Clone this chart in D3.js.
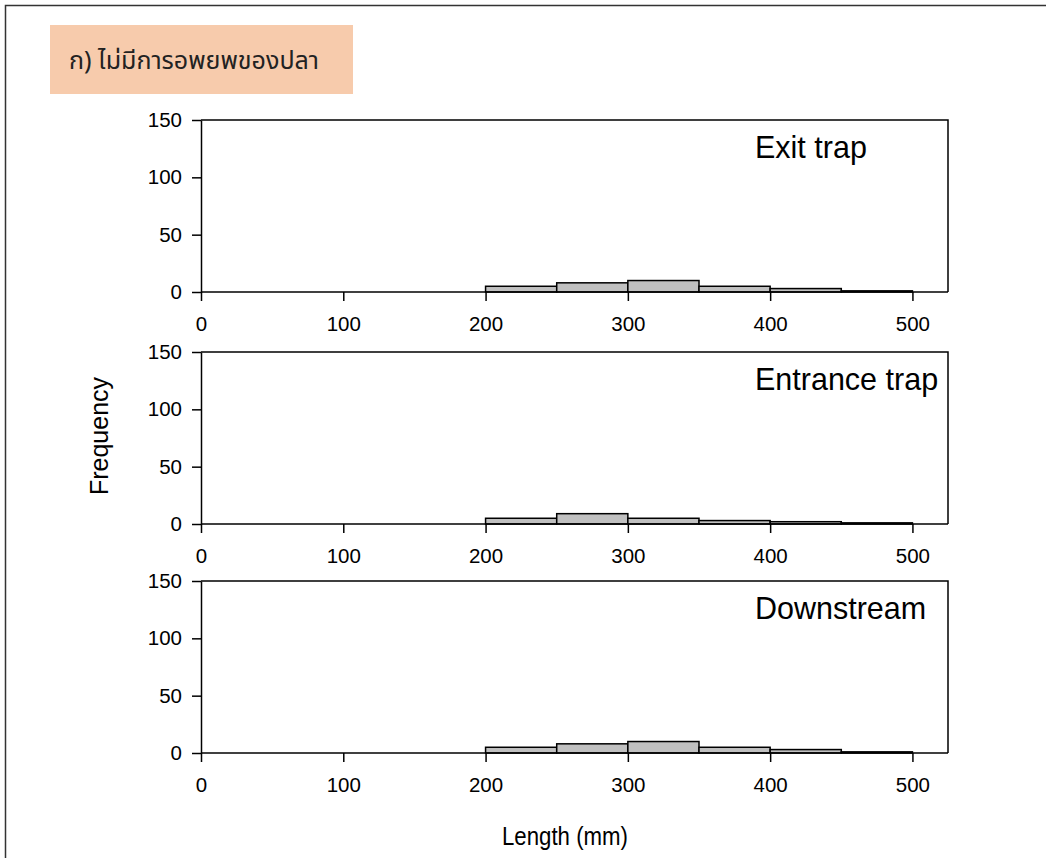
<!DOCTYPE html>
<html>
<head>
<meta charset="utf-8">
<script src="https://cdn.jsdelivr.net/npm/d3@7"></script>
<style>
  body { margin: 0; background: #fff; }
  text { font-family: "Liberation Sans", Arial, sans-serif; fill: #000; }
</style>
</head>
<body>
<svg id="chart" width="1046" height="858"></svg>
<script>
// bin edges (mm) and counts per panel
const binStarts = [200, 250, 300, 350, 400, 450];
const binWidth = 50;
const panelNames = ["Exit trap", "Entrance trap", "Downstream"];
const exitCounts = [5, 8, 10, 5, 3, 1];
const entranceCounts = [5, 9, 5, 3, 2, 1];
const downstreamCounts = [5, 8, 10, 5, 3, 1];
const xTicks = [0, 100, 200, 300, 400, 500];
const yTicks = [0, 50, 100, 150];

var svg = d3.select("#chart");

// outer frame
svg.append("path")
  .attr("d", "M5.5,858 V5.5 H1046")
  .attr("fill", "none")
  .attr("stroke", "#333")
  .attr("stroke-width", 1.5);

// title box
svg.append("rect")
  .attr("x", 50).attr("y", 25)
  .attr("width", 303).attr("height", 69)
  .attr("fill", "#f7cbac");
svg.append("text")
  .attr("x", 69).attr("y", 69)
  .style("font-family", "'Noto Sans Thai', 'Noto Sans', sans-serif")
  .style("font-size", "25px")
  .style("fill", "#222")
  .attr("textLength", 250)
  .attr("lengthAdjust", "spacingAndGlyphs")
  .text("ก) ไม่มีการอพยพของปลา");

var left = 201, right = 948;
var panelTops = [120, 352, 581];
var panelH = 172;
var allCounts = [exitCounts, entranceCounts, downstreamCounts];

var x = d3.scaleLinear().domain([0, 525]).range([left, right]);

panelNames.forEach(function (name, p) {
  var top = panelTops[p];
  var y = d3.scaleLinear().domain([0, 150]).range([top + panelH, top]);
  var g = svg.append("g");

  // frame (top & right)
  g.append("path")
    .attr("d", "M" + left + "," + top + " H" + right + " V" + (top + panelH))
    .attr("fill", "none")
    .attr("stroke", "#000")
    .attr("stroke-width", 1.5);

  // bars
  var data = binStarts.map(function (b, i) { return { x0: b, count: allCounts[p][i] }; });
  g.selectAll(".bar")
    .data(data)
    .enter()
    .append("rect")
    .attr("class", "bar")
    .attr("x", function (d) { return x(d.x0); })
    .attr("width", function (d) { return x(d.x0 + binWidth) - x(d.x0); })
    .attr("y", function (d) { return y(d.count); })
    .attr("height", function (d) { return y(0) - y(d.count); })
    .attr("fill", "#c0c0c0")
    .attr("stroke", "#000")
    .attr("stroke-width", 1.5);

  // axes
  var xAxis = g.append("g")
    .attr("transform", "translate(0," + (top + panelH) + ")")
    .call(d3.axisBottom(x).tickValues(xTicks).tickSize(9).tickPadding(15).tickSizeOuter(0));
  var yAxis = g.append("g")
    .attr("transform", "translate(" + left + ",0)")
    .call(d3.axisLeft(y).tickValues(yTicks).tickSize(9).tickPadding(10).tickSizeOuter(0));

  [xAxis, yAxis].forEach(function (a) {
    a.select(".domain").attr("stroke", "#000").attr("stroke-width", 1.5);
    a.selectAll(".tick line").attr("stroke", "#000").attr("stroke-width", 1.5);
    a.selectAll(".tick text")
      .style("font-family", "'Liberation Sans', Arial, sans-serif")
      .style("font-size", "20.5px")
      .attr("fill", "#000");
  });
  // x axis line extends to plot right edge
  xAxis.select(".domain").attr("d", "M" + left + ",0H" + right);

  g.append("text")
    .attr("x", 755)
    .attr("y", top + 38)
    .style("font-size", "30.5px")
    .text(name);
});

svg.append("text")
  .attr("transform", "translate(108,436) rotate(-90)")
  .style("text-anchor", "middle")
  .style("font-size", "25px")
  .text("Frequency");

svg.append("text")
  .attr("x", 565).attr("y", 845)
  .style("text-anchor", "middle")
  .style("font-size", "26px")
  .attr("textLength", 126)
  .attr("lengthAdjust", "spacingAndGlyphs")
  .text("Length (mm)");
</script>
</body>
</html>
